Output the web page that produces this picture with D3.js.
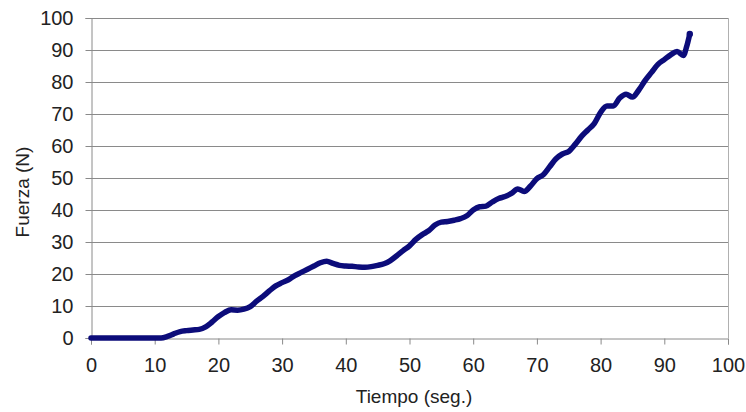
<!DOCTYPE html>
<html>
<head>
<meta charset="utf-8">
<script src="https://cdn.jsdelivr.net/npm/d3@7"></script>
<style>
  body { margin: 0; background: #fff; }
  text { font-family: "Liberation Sans", Arial, sans-serif; fill: #222; }
</style>
</head>
<body>
<div id="chart"></div>
<script>
// tiempo (seg.) y fuerza (N)
let tiempo = [0, 1, 2, 3, 4, 5, 6, 7, 8, 9, 10, 11, 12, 13, 14, 15, 16, 17, 18, 19,
  20, 21, 22, 23, 24, 25, 26, 27, 28, 29, 30, 31, 32, 33, 34, 35, 36, 37, 38, 39,
  40, 41, 42, 43, 44, 45, 46, 47, 48, 49, 50, 51, 52, 53, 54, 55, 56, 57, 58, 59,
  60, 61, 62, 63, 64, 65, 66, 67, 68, 69, 70, 71, 72, 73, 74, 75, 76, 77, 78, 79,
  80, 81, 82, 83, 84, 85, 86, 87, 88, 89, 90, 91, 92, 93, 93.5, 94];
let fuerza = [0, 0, 0, 0, 0, 0, 0, 0, 0, 0, 0, 0, 0.5, 1.3, 2.0, 2.3, 2.5, 2.7, 3.5, 5.0,
  6.7, 8.0, 8.8, 8.7, 9.0, 9.8, 11.5, 13.0, 14.7, 16.3, 17.3, 18.2, 19.5, 20.5, 21.5, 22.5, 23.5, 24.0, 23.3, 22.7,
  22.5, 22.4, 22.2, 22.1, 22.3, 22.7, 23.2, 24.2, 25.7, 27.3, 28.8, 30.8, 32.3, 33.5, 35.3, 36.2, 36.4, 36.8, 37.3, 38.2,
  40.0, 41.0, 41.2, 42.5, 43.6, 44.2, 45.2, 46.6, 45.8, 47.5, 49.8, 51.0, 53.5, 56.0, 57.5, 58.3, 60.5, 63.0, 65.0, 67.0,
  70.5, 72.5, 72.5, 75.0, 76.2, 75.3, 77.5, 80.5, 83.0, 85.5, 87.0, 88.5, 89.5, 88.3, 91.0, 95.0];
let xTicks = [0, 10, 20, 30, 40, 50, 60, 70, 80, 90, 100];
let yTicks = [0, 10, 20, 30, 40, 50, 60, 70, 80, 90, 100];

let width = 746, height = 412;
let margin = { top: 18, right: 18, bottom: 74, left: 91 };

function draw() {
  let svg = d3.select("#chart")
    .append("svg")
    .attr("width", width)
    .attr("height", height);

  let x = d3.scaleLinear().domain([0, 100]).range([margin.left, width - margin.right]);
  let y = d3.scaleLinear().domain([0, 100]).range([height - margin.bottom, margin.top]);

  /* ------------------ Grid ------------------ */
  svg.append("g")
    .selectAll("line")
    .data(yTicks.filter(d => d > 0))
    .enter()
    .append("line")
    .attr("x1", x(0))
    .attr("x2", x(100))
    .attr("y1", d => Math.round(y(d)) + 0.5)
    .attr("y2", d => Math.round(y(d)) + 0.5)
    .style("stroke", "#8a8a8a")
    .style("stroke-width", 1);

  // borde derecho
  svg.append("line")
    .attr("x1", Math.round(x(100)) + 0.5)
    .attr("x2", Math.round(x(100)) + 0.5)
    .attr("y1", y(100))
    .attr("y2", y(0))
    .style("stroke", "#b0b0b0");

  /* ------------------ Axes ------------------ */
  let xAxis = svg.append("g")
    .attr("transform", "translate(0," + (Math.round(y(0)) + 0.5) + ")")
    .call(d3.axisBottom(x).tickValues(xTicks).tickSize(6).tickPadding(13));

  let yAxis = svg.append("g")
    .attr("transform", "translate(" + (Math.round(x(0)) + 0.5) + ",0)")
    .call(d3.axisLeft(y).tickValues(yTicks).tickSize(6).tickPadding(12));

  [xAxis, yAxis].forEach(a => {
    a.select(".domain").style("stroke", "#8a8a8a");
    a.selectAll(".tick line").style("stroke", "#8a8a8a");
    a.selectAll(".tick text")
      .style("font-size", "20px")
      .style("fill", "#222");
  });

  /* ------------------ Linea ------------------ */
  let points = tiempo.map((t, i) => [t, fuerza[i]]);
  let line = d3.line()
    .x(d => x(d[0]))
    .y(d => y(d[1]))
    .curve(d3.curveMonotoneX);

  svg.append("path")
    .datum(points)
    .attr("d", line)
    .style("fill", "none")
    .style("stroke", "#0c0c7a")
    .style("stroke-width", 5.5)
    .style("stroke-linejoin", "round")
    .style("stroke-linecap", "round");

  // marcador final
  svg.append("circle")
    .attr("cx", x(tiempo[tiempo.length - 1]))
    .attr("cy", y(fuerza[fuerza.length - 1]))
    .attr("r", 3.2)
    .style("fill", "#0c0c7a");

  /* ------------------ Titulos ------------------ */
  svg.append("text")
    .attr("x", 414)
    .attr("y", 403)
    .attr("text-anchor", "middle")
    .style("font-size", "19px")
    .text("Tiempo (seg.)");

  svg.append("text")
    .attr("transform", "translate(29,192) rotate(-90)")
    .attr("text-anchor", "middle")
    .style("font-size", "19px")
    .text("Fuerza (N)");
}

draw();
</script>
</body>
</html>
